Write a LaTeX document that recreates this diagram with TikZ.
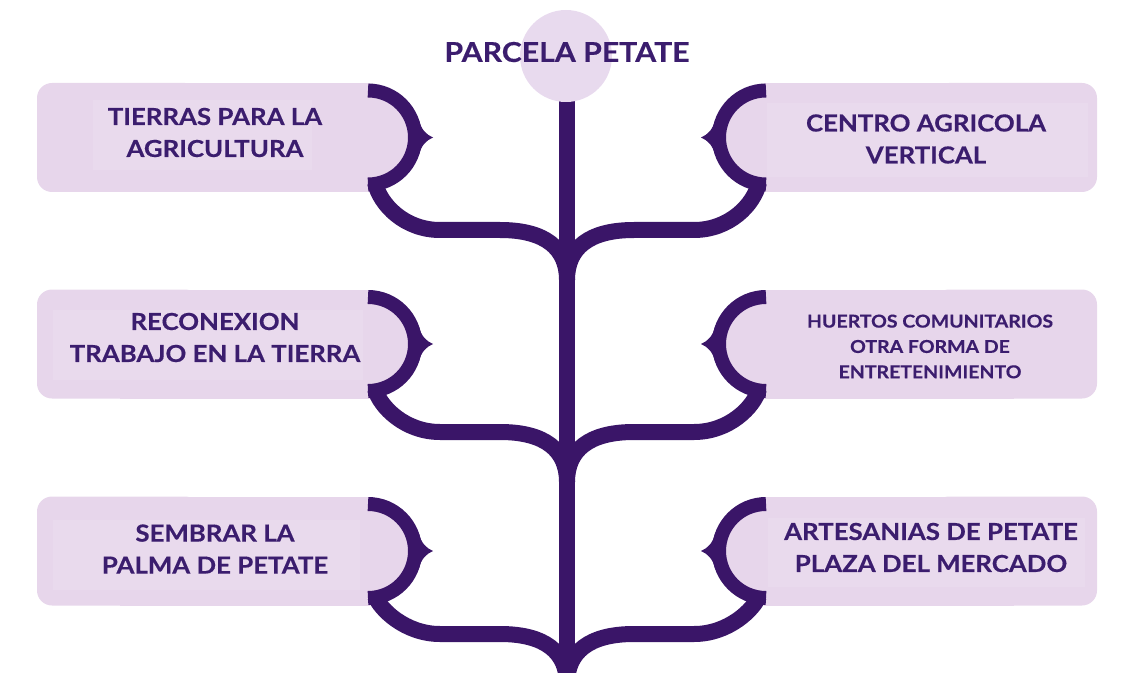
\documentclass[tikz,border=0pt]{standalone}
\usepackage{fontspec}
\setmainfont{Lato}
\newfontfamily\labelfont{Lato}[FakeStretch=1.1, BoldFeatures={FakeBold=0.4}]
\definecolor{dk}{HTML}{3A1568}
\definecolor{txt}{HTML}{3B1D6E}
\definecolor{lav}{HTML}{E7D6EB}
\definecolor{lavtext}{HTML}{E9DAED}
\definecolor{lavc}{HTML}{E8DAEE}
\tikzset{
  arcline/.style={draw=dk, line width=10.5pt},
  branchline/.style={draw=dk, line width=12pt},
  boxlabel/.style={text=txt, font=\labelfont\bfseries\fontsize{17.6}{24}\selectfont, align=center, inner sep=0pt},
  smalllabel/.style={boxlabel, font=\labelfont\bfseries\fontsize{13.3}{19}\selectfont},
  titlelabel/.style={boxlabel, font=\labelfont\bfseries\fontsize{20.6}{24}\selectfont},
}
% #1 = box centre y, #2 = branch y
\newcommand\leafbranch[2]{%
  \fill[lav, rounded corners=11.25pt] (37,#1-54.5) rectangle (200,#1+54.5);
  \fill[lav] (120,#1-54.5) rectangle (370,#1+54.5);
  \fill[lav] (368,#1) circle[radius=41];
  \draw[arcline] (368,#1+47) arc[start angle=90, end angle=-90, radius=47];
  \fill[dk] (418.7,#1+18.5) .. controls (421,#1+8) and (426,#1+3) .. (433,#1)
     .. controls (426,#1-3) and (421,#1-8) .. (418.7,#1-18.5)
     -- (410,#1-10) -- (410,#1+10) -- cycle;
  \draw[branchline] (375,#1-45) .. controls (380,#2+25) and (405,#2) .. (440,#2)
     -- (500,#2) .. controls (545,#2) and (567,#2-18) .. (567,#2-50);
}
\begin{document}
\begin{tikzpicture}[x=0.75pt, y=0.75pt]
\useasboundingbox (0,0) rectangle (1126,672);
% trunk
\draw[branchline] (567,600) -- (567,-10);
% left side
\leafbranch{534.5}{442}
\leafbranch{328}{240}
\leafbranch{121}{38}
% right side (mirror)
\begin{scope}[cm={-1,0,0,1,(1134,0)}]
\leafbranch{534.5}{442}
\leafbranch{328}{240}
\leafbranch{121}{38}
\end{scope}
% subtle text panels
\fill[lavtext] (93,502) rectangle (312,572);
\fill[lavtext] (53,292) rectangle (363,362);
\fill[lavtext] (53,82) rectangle (360,152);
\fill[lavtext] (767,495) rectangle (1088,569);
\fill[lavtext] (768,85) rectangle (1085,154);
% top circle
\fill[lavc] (566,616) circle[radius=46];
\node[titlelabel] (title) at (567,620) {PARCELA PETATE};
% labels
\node[boxlabel] (t1) at (215,539.5) {TIERRAS PARA LA\\AGRICULTURA};
\node[boxlabel] (t2) at (215,334.5) {RECONEXION\\TRABAJO EN LA TIERRA};
\node[boxlabel] (t3) at (215,123) {SEMBRAR LA\\PALMA DE PETATE};
\node[boxlabel] (t4) at (926,533) {CENTRO AGRICOLA\\VERTICAL};
\node[smalllabel] (t5) at (930,325.5) {HUERTOS COMUNITARIOS\\OTRA FORMA DE\\ENTRETENIMIENTO};
\node[boxlabel] (t6) at (931,124.5) {ARTESANIAS DE PETATE\\PLAZA DEL MERCADO};
\end{tikzpicture}
\end{document}
